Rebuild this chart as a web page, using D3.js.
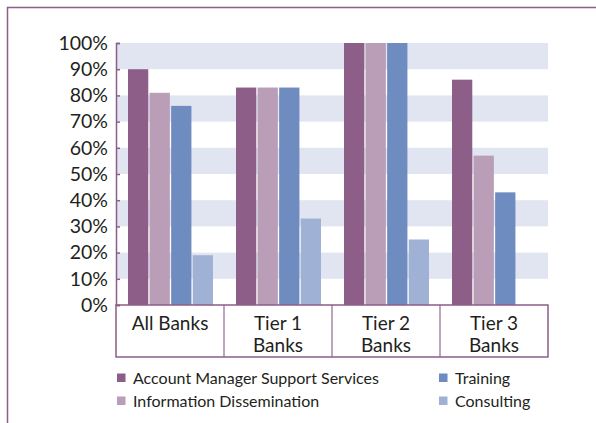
<!DOCTYPE html>
<html>
<head>
<meta charset="utf-8">
<script src="https://cdn.jsdelivr.net/npm/d3@7"></script>
<style>
  body { margin: 0; background: #fff; }
  text { font-family: Lato, "Open Sans", sans-serif; fill: #231f20; }
</style>
</head>
<body>
<div id="chart"></div>
<script>
const categories = [['All Banks'], ['Tier 1', 'Banks'], ['Tier 2', 'Banks'], ['Tier 3', 'Banks']];
const seriesNames = ['Account Manager Support Services', 'Information Dissemination', 'Training', 'Consulting'];
const accountManager = [90, 83, 100, 86];
const infoDissemination = [81, 83, 100, 57];
const training = [76, 83, 100, 43];
const consulting = [19, 33, 25, 0];
const yTicks = [0, 10, 20, 30, 40, 50, 60, 70, 80, 90, 100];
const colors = ['#8d5e88', '#ba9db7', '#6e8cc0', '#a0b1d6'];

const width = 596;
const height = 423;
const frame = '#8d5e88';
const margin = { top: 43, left: 116, right: 48, bottom: 118 };

const series = [accountManager, infoDissemination, training, consulting];
const catKeys = categories.map(c => c.join(' '));

const svg = d3.select('#chart').append('svg')
  .attr('width', width)
  .attr('height', height);

// outer frame (runs off right and bottom)
svg.append('path')
  .attr('d', `M7.5,${height} V7.5 H${width}`)
  .attr('fill', 'none')
  .attr('stroke', frame)
  .attr('stroke-width', 1.5);

const x = d3.scaleBand()
  .domain(catKeys)
  .range([margin.left, width - margin.right]);

const xInner = d3.scaleBand()
  .domain(d3.range(series.length))
  .range([12, x.bandwidth() - 11])
  .paddingInner(0.06);

const y = d3.scaleLinear()
  .domain([0, 100])
  .range([height - margin.bottom, margin.top]);

// alternating stripes
const stripes = d3.range(10, 100, 20);
svg.append('g').selectAll('rect')
  .data(stripes)
  .join('rect')
  .attr('x', margin.left)
  .attr('y', d => y(d + 10))
  .attr('width', x.range()[1] - margin.left)
  .attr('height', d => y(d) - y(d + 10))
  .attr('fill', '#e0e5f1');

// bars
const groups = svg.append('g').selectAll('g')
  .data(catKeys)
  .join('g')
  .attr('transform', d => `translate(${x(d)},0)`);

groups.selectAll('rect')
  .data((d, ci) => series.map((s, si) => ({ si, v: s[ci] })).filter(e => e.v > 0))
  .join('rect')
  .attr('x', d => xInner(d.si))
  .attr('y', d => y(d.v))
  .attr('width', xInner.bandwidth())
  .attr('height', d => y(0) - y(d.v))
  .attr('fill', d => colors[d.si]);

// y axis
const yAxis = d3.axisLeft(y)
  .tickValues(yTicks)
  .tickSize(-4)
  .tickPadding(8)
  .tickFormat(d => d + '%');

const ya = svg.append('g')
  .attr('transform', `translate(${margin.left},0)`)
  .call(yAxis);
ya.select('.domain').attr('stroke', frame).attr('stroke-width', 1.5);
ya.selectAll('.tick line').attr('stroke', frame).attr('stroke-width', 1.5);
ya.selectAll('.tick text')
  .attr('font-size', 19.5)
  .attr('font-family', 'Lato, sans-serif')
  .attr('fill', '#231f20');

// category box
const boxTop = y(0);
const boxBottom = boxTop + 52;
const box = svg.append('g');
box.append('rect')
  .attr('x', margin.left)
  .attr('y', boxTop)
  .attr('width', x.range()[1] - margin.left)
  .attr('height', boxBottom - boxTop)
  .attr('fill', 'none')
  .attr('stroke', frame)
  .attr('stroke-width', 1.5);
box.selectAll('line')
  .data(catKeys.slice(1))
  .join('line')
  .attr('x1', d => x(d))
  .attr('x2', d => x(d))
  .attr('y1', boxTop)
  .attr('y2', boxBottom)
  .attr('stroke', frame)
  .attr('stroke-width', 1.5)
  .attr('opacity', 0.75);

const labels = box.selectAll('text')
  .data(categories)
  .join('text')
  .attr('text-anchor', 'middle')
  .attr('font-size', 19)
  .attr('transform', (d, i) => `translate(${x(catKeys[i]) + x.bandwidth() / 2},${boxTop + 25})`);
labels.selectAll('tspan')
  .data(d => d)
  .join('tspan')
  .attr('x', 0)
  .attr('dy', (d, i) => i === 0 ? 0 : 22)
  .text(d => d);

// legend
const legendPos = [[117, 378], [117, 401], [439, 378], [439, 401]];
const legend = svg.append('g').selectAll('g')
  .data(seriesNames)
  .join('g')
  .attr('transform', (d, i) => `translate(${legendPos[i][0]},${legendPos[i][1]})`);
legend.append('rect')
  .attr('x', 0)
  .attr('y', -4.5)
  .attr('width', 8.5)
  .attr('height', 8.5)
  .attr('fill', (d, i) => colors[i]);
legend.append('text')
  .attr('x', 16)
  .attr('y', 0)
  .attr('dy', '0.35em')
  .attr('font-size', 16)
  .text(d => d);
</script>
</body>
</html>
